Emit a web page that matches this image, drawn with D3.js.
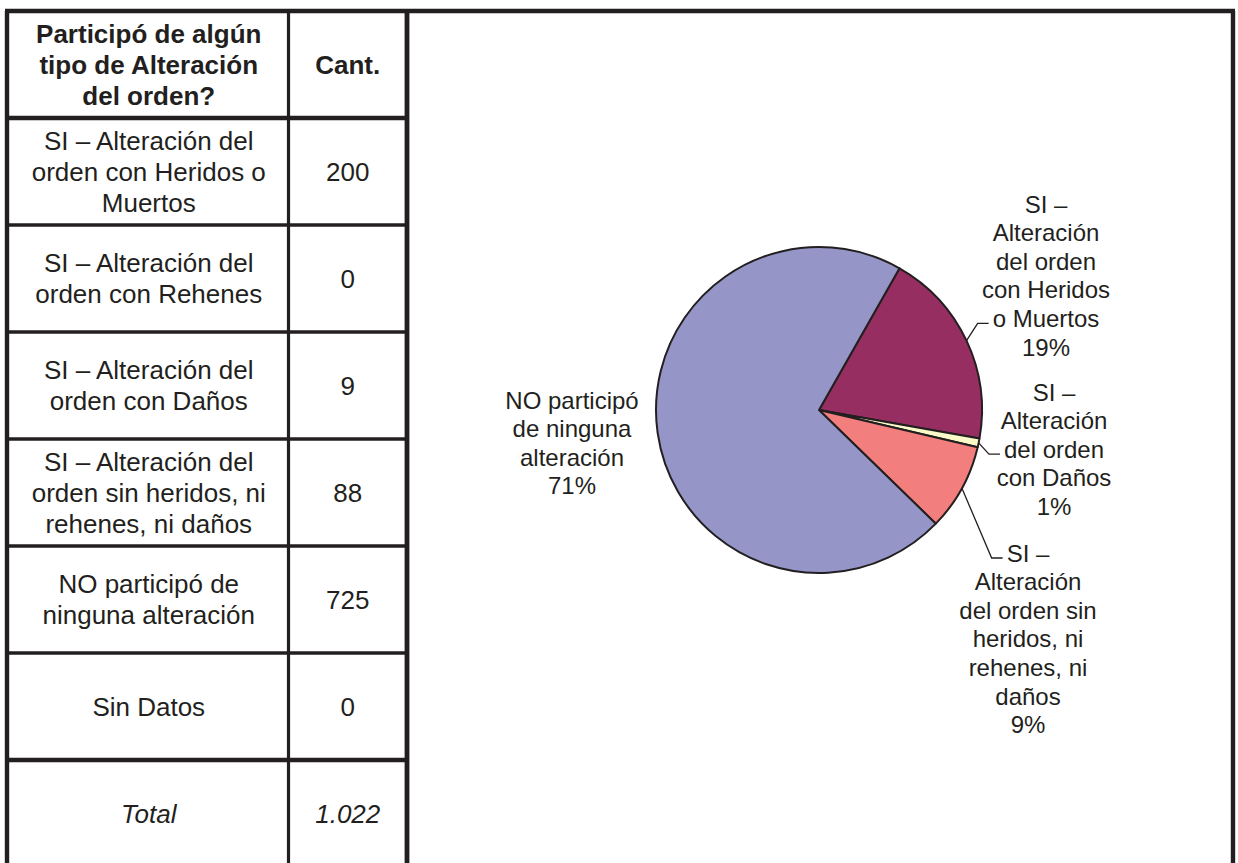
<!DOCTYPE html>
<html><head><meta charset="utf-8">
<script src="https://cdn.jsdelivr.net/npm/d3@7"></script>
<style>html,body{margin:0;padding:0;background:#fff;} svg{display:block;}</style>
</head><body><svg id="c" width="1238" height="863"></svg>
<script>
// ---------- data ----------
const headerLabel = ["Participó de algún", "tipo de Alteración", "del orden?"];
const headerCount = "Cant.";
const categories = [
  ["SI – Alteración del", "orden con Heridos o", "Muertos"],
  ["SI – Alteración del", "orden con Rehenes"],
  ["SI – Alteración del", "orden con Daños"],
  ["SI – Alteración del", "orden sin heridos, ni", "rehenes, ni daños"],
  ["NO participó de", "ninguna alteración"],
  ["Sin Datos"]
];
const values = [200, 0, 9, 88, 725, 0];
const totalLabel = "Total";
const totalValue = "1.022";
const sliceLabels = [
  ["SI –", "Alteración", "del orden", "con Heridos", "o Muertos"],
  [],
  ["SI –", "Alteración", "del orden", "con Daños"],
  ["SI –", "Alteración", "del orden sin", "heridos, ni", "rehenes, ni", "daños"],
  ["NO participó", "de ninguna", "alteración"],
  []
];
const slicePercents = ["19%", "", "1%", "9%", "71%", ""];
const sliceColors = ["#962E62", "#CCFFFF", "#FAFAC8", "#F27E7E", "#9595C8", "#660066"];

// ---------- layout ----------
const W = 1238, H = 863;
const ink = "#231F20";
const font = "'Liberation Sans', Arial, Helvetica, sans-serif";
const svg = d3.select("#c");
svg.append("rect").attr("width", W).attr("height", H).attr("fill", "#fff");

const rowY = d3.scaleLinear().domain([0, 8]).range([11, 11 + 107 * 8]);
const xLeft = 7, xSep = 288.5, xDiv = 407, xRight = 1233;
const col1C = (xLeft + xSep) / 2 + 1, col2C = (xSep + xDiv) / 2;

const tableRows = [{lines: headerLabel, value: headerCount, bold: true}]
  .concat(categories.map((c, i) => ({lines: c, value: String(values[i])})))
  .concat([{lines: [totalLabel], value: totalValue, italic: true}]);

const tLH = 31;
const tg = svg.append("g").attr("font-family", font).attr("font-size", 26).attr("fill", ink);
tableRows.forEach((r, i) => {
  const cy = (rowY(i) + rowY(i + 1)) / 2;
  const n = r.lines.length;
  const t = tg.append("text").attr("text-anchor", "middle")
    .attr("font-weight", r.bold ? "bold" : null)
    .attr("font-style", r.italic ? "italic" : null);
  r.lines.forEach((l, k) => {
    t.append("tspan").attr("x", col1C).attr("y", cy + (k - (n - 1) / 2) * tLH).attr("dy", "0.36em").text(l);
  });
  tg.append("text").attr("text-anchor", "middle")
    .attr("font-weight", r.bold ? "bold" : null)
    .attr("font-style", r.italic ? "italic" : null)
    .attr("x", col2C).attr("y", cy).attr("dy", "0.36em").text(r.value);
});

// grid lines
const lg = svg.append("g").attr("stroke", ink).attr("fill", "none");
d3.range(1, 8).forEach(i => {
  lg.append("line").attr("x1", xLeft).attr("x2", xDiv).attr("y1", rowY(i)).attr("y2", rowY(i))
    .attr("stroke-width", (i === 1 || i === 7) ? 4.5 : 3.4);
});
lg.append("line").attr("x1", xLeft - 2).attr("x2", xRight + 2).attr("y1", rowY(0)).attr("y2", rowY(0)).attr("stroke-width", 4.4);
[[xLeft, 4.4], [xSep, 3.2], [xDiv, 4.8], [xRight, 4.4]].forEach(([x, w]) => {
  lg.append("line").attr("x1", x).attr("x2", x).attr("y1", rowY(0)).attr("y2", H + 5).attr("stroke-width", w);
});

// ---------- pie ----------
const cx = 819, cy = 410, R = 163;
const pie = d3.pie().sort(null).value(d => d).startAngle(29.6 * Math.PI / 180).endAngle(29.6 * Math.PI / 180 + 2 * Math.PI);
const arcs = pie(values);
const arc = d3.arc().innerRadius(0).outerRadius(R);
const edge = d3.arc().innerRadius(R).outerRadius(R);
const pg = svg.append("g").attr("transform", `translate(${cx},${cy})`);
pg.selectAll("path").data(arcs.filter(d => d.value > 0)).join("path")
  .attr("d", arc).attr("fill", d => sliceColors[d.index])
  .attr("stroke", ink).attr("stroke-width", 2).attr("stroke-linejoin", "round");

// label layout: center x, first-line y, line index the leader attaches to
const labelLayout = [
  {cx: 1046, y0: 204, attach: 4},
  null,
  {cx: 1054, y0: 392, attach: 2},
  {cx: 1028, y0: 553, attach: 0},
  {cx: 572, y0: 400, attach: null},
  null
];
const pLH = 28.6;
const lab = svg.append("g").attr("font-family", font).attr("font-size", 24).attr("fill", ink);
const leaders = svg.append("g").attr("stroke", ink).attr("fill", "none").attr("stroke-width", 1.3);
arcs.forEach((d, i) => {
  const L = labelLayout[i];
  if (!L || d.value === 0) return;
  const lines = sliceLabels[i].concat([slicePercents[i]]);
  const t = lab.append("text").attr("text-anchor", "middle");
  const spans = lines.map((l, k) => t.append("tspan").attr("x", L.cx).attr("y", L.y0 + k * pLH).attr("dy", "0.36em").text(l));
  if (L.attach !== null) {
    const sp = spans[L.attach];
    const w = sp.node().getComputedTextLength();
    const ax = L.cx - w / 2 - 4;
    const ay = L.y0 + L.attach * pLH + 5;
    const c = edge.centroid(d);
    const start = [cx + c[0], cy + c[1]];
    leaders.append("path").attr("d", d3.line()([start, [ax - 11, ay], [ax, ay]]));
  }
});
</script>
</body></html>
